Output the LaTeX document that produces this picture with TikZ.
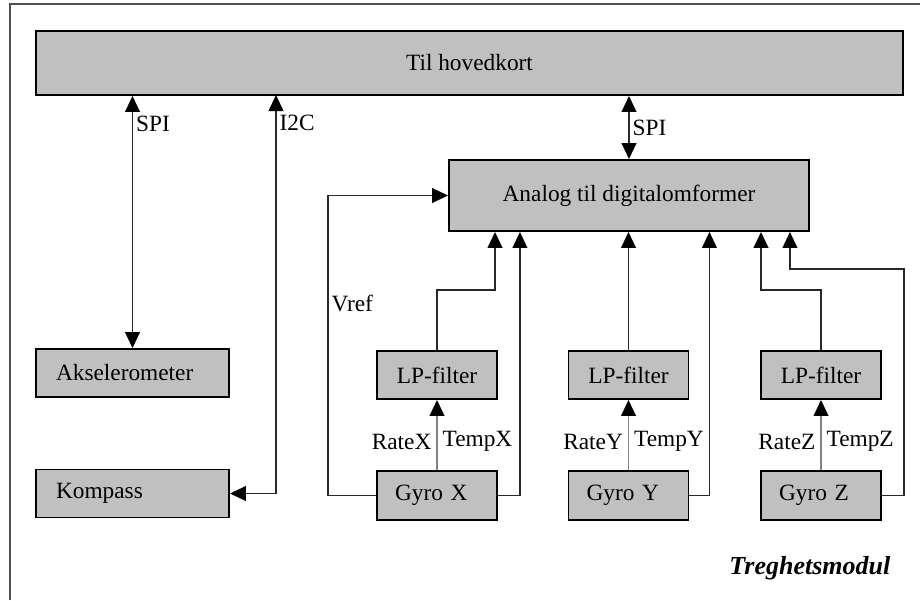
\documentclass[tikz,border=0pt]{standalone}
\usepackage{fontspec}
\setmainfont{Liberation Serif}
\usetikzlibrary{arrows.meta}
\definecolor{boxgray}{RGB}{192,192,192}
\definecolor{framegray}{RGB}{80,80,80}
\definecolor{linegray}{RGB}{40,40,40}
\begin{document}
\begin{tikzpicture}[x=0.75pt, y=-0.75pt,
    every node/.style={font=\fontsize{17.5pt}{19pt}\selectfont},
    blokk/.style={draw, line width=1.4pt, fill=boxgray, inner sep=0pt},
    venstreblokk/.style={blokk, align=left, inner xsep=15pt, text width=114.75pt, minimum height=36pt},
    signal/.style={-{Triangle[length=12pt, width=11pt, color=black]}, line width=1.4pt, linegray},
    buss/.style={{Triangle[length=12pt, width=11pt, color=black]}-{Triangle[length=12pt, width=11pt, color=black]}, line width=1.4pt, linegray}]
    \useasboundingbox (0,0) rectangle (920,600);

    % Ramme rundt modulen
    \draw[framegray, line width=1.6pt] (10,600) -- (10,4) -- (920,4);

    % Hovedkort og AD-omformer
    \node[blokk, minimum width=650.25pt, minimum height=48pt] (hoved) at (469.5,63) {Til hovedkort};
    \node[blokk, minimum width=270pt, minimum height=53.25pt] (adc) at (629,195.5) {Analog til digitalomformer};

    % Sensorer til venstre
    \node[venstreblokk] (aksel) at (132.5,373) {Akselerometer};
    \node[venstreblokk] (kompass) at (132.5,493.5) {Kompass};

    % Gyroer med LP-filter
    \foreach \akse/\x in {X/437, Y/628.5, Z/821} {
        \node[blokk, minimum width=90pt, minimum height=36pt] (lp\akse) at (\x,375) {LP-filter};
        \node[blokk, align=left, inner xsep=13.5pt, text width=63pt, minimum height=36.75pt] (gyro\akse) at (\x,495.5) {Gyro \akse};
        \draw[signal, gray] (gyro\akse.north) -- (lp\akse.south)
            node[midway, left, black, yshift=-5pt, inner xsep=3.5pt] {Rate\akse}
            node[midway, right, black, yshift=-5pt, inner xsep=3.5pt] {Temp\akse};
    }

    % Busser til hovedkortet
    \draw[buss] (hoved.south -| aksel.north) -- (aksel.north) node[pos=0.11, right, black, inner xsep=2pt] {SPI};
    \coordinate (i2c) at (276,95);
    \draw[buss] (i2c) |- (kompass.east) node[pos=0.035, right, black, inner xsep=2pt] {I2C};
    \draw[buss] (hoved.south -| adc.north) -- (adc.north) node[midway, right, black, inner xsep=2pt] {SPI};

    % Signaler inn i AD-omformeren
    \draw[signal] (gyroX.west) -| ++(-48,-192.5) node[right, black, inner xsep=2pt] {Vref} |- (adc.west);
    \draw[signal] (lpX.north) |- ++(58,-60) coordinate (kx) -- (kx |- adc.south);
    \draw[signal] (gyroX.east) -- ++(22,0) coordinate (tx) -- (tx |- adc.south);
    \draw[signal] (lpY.north) -- (lpY.north |- adc.south);
    \draw[signal] (gyroY.east) -- ++(20,0) coordinate (ty) -- (ty |- adc.south);
    \draw[signal] (lpZ.north) |- ++(-60,-60) coordinate (kz) -- (kz |- adc.south);
    \draw[signal] (gyroZ.east) -| ++(22,-226.5) -- ++(-114,0) coordinate (tz) -- (tz |- adc.south);

    \node[anchor=east, font=\fontsize{19.5pt}{21pt}\selectfont\bfseries\itshape] (modul) at (895,568) {Treghetsmodul};
\end{tikzpicture}
\end{document}
